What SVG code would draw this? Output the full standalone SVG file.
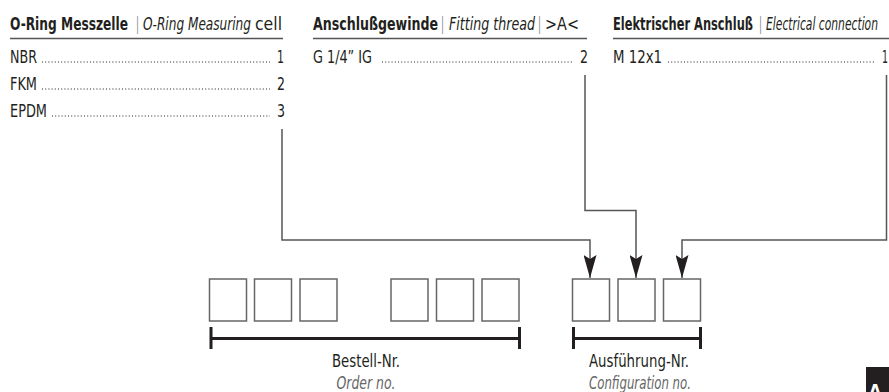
<svg xmlns="http://www.w3.org/2000/svg" width="889" height="392" viewBox="0 0 889 392">
<style>
text{font-family:"Liberation Sans Narrow","DejaVu Sans Condensed","Liberation Sans",sans-serif;font-size:17.5px;fill:#231f20}
.b{font-weight:bold}
.i{font-style:italic}
.sep{fill:#888;font-weight:normal}
.ul{stroke:#555;stroke-width:1.5;fill:none}
.dots{stroke:#231f20;stroke-width:1.2;stroke-dasharray:1 2.2;fill:none}
.box{fill:#fff;stroke:#666;stroke-width:1.5}
.br{stroke:#231f20;stroke-width:3;fill:none}
.con{stroke:#555;stroke-width:1.5;fill:none;marker-end:url(#ah)}
.c{text-anchor:middle}
</style>
<defs>
<marker id="ah" viewBox="0 0 23 13" refX="23" refY="6.5" markerWidth="23" markerHeight="13" markerUnits="userSpaceOnUse" orient="auto">
<path d="M0,0 L23,6.5 L0,13 L4,6.5 Z" fill="#231f20"/>
</marker>
</defs>
<g id="header-oring">
<text class="b" x="10" y="30" textLength="118" lengthAdjust="spacingAndGlyphs">O-Ring Messzelle</text>
<text class="sep" x="136" y="30" textLength="3" lengthAdjust="spacingAndGlyphs">|</text>
<text class="i" x="143" y="30" textLength="108" lengthAdjust="spacingAndGlyphs">O-Ring Measuring</text>
<text x="255" y="30" textLength="27" lengthAdjust="spacingAndGlyphs">cell</text>
<line class="ul" x1="10" y1="38.5" x2="283" y2="38.5"/>
</g>
<g id="opt-nbr">
<text x="10" y="63" textLength="27" lengthAdjust="spacingAndGlyphs">NBR</text>
<line class="dots" x1="42" y1="62" x2="270" y2="62"/>
<text x="277" y="63" textLength="7" lengthAdjust="spacingAndGlyphs">1</text>
</g>
<g id="opt-fkm">
<text x="10" y="90" textLength="27" lengthAdjust="spacingAndGlyphs">FKM</text>
<line class="dots" x1="42" y1="89" x2="270" y2="89"/>
<text x="277" y="90" textLength="8" lengthAdjust="spacingAndGlyphs">2</text>
</g>
<g id="opt-epdm">
<text x="10" y="117" textLength="37" lengthAdjust="spacingAndGlyphs">EPDM</text>
<line class="dots" x1="52" y1="116" x2="270" y2="116"/>
<text x="277" y="117" textLength="8" lengthAdjust="spacingAndGlyphs">3</text>
</g>
<g id="header-thread">
<text class="b" x="313" y="30" textLength="125" lengthAdjust="spacingAndGlyphs">Anschlußgewinde</text>
<text class="sep" x="441" y="30" textLength="3" lengthAdjust="spacingAndGlyphs">|</text>
<text class="i" x="449" y="30" textLength="86" lengthAdjust="spacingAndGlyphs">Fitting thread</text>
<text class="sep" x="538" y="30" textLength="3" lengthAdjust="spacingAndGlyphs">|</text>
<text x="545" y="30" textLength="34" lengthAdjust="spacingAndGlyphs">&gt;A&lt;</text>
<line class="ul" x1="313" y1="38.5" x2="587" y2="38.5"/>
</g>
<g id="opt-g14">
<text x="313" y="63" textLength="59" lengthAdjust="spacingAndGlyphs">G 1/4”  IG</text>
<line class="dots" x1="382" y1="62" x2="573" y2="62"/>
<text x="580" y="63" textLength="8" lengthAdjust="spacingAndGlyphs">2</text>
</g>
<g id="header-electrical">
<text class="b" x="613" y="30" textLength="140" lengthAdjust="spacingAndGlyphs">Elektrischer Anschluß</text>
<text class="sep" x="759" y="30" textLength="3" lengthAdjust="spacingAndGlyphs">|</text>
<text class="i" x="766" y="30" textLength="112" lengthAdjust="spacingAndGlyphs">Electrical connection</text>
<line class="ul" x1="613" y1="38.5" x2="889" y2="38.5"/>
</g>
<g id="opt-m12">
<text x="613" y="63" textLength="49" lengthAdjust="spacingAndGlyphs">M 12x1</text>
<line class="dots" x1="668" y1="62" x2="874" y2="62"/>
<text x="882" y="63" textLength="6" lengthAdjust="spacingAndGlyphs">1</text>
</g>
<g id="connectors">
<path class="con" d="M282,129 V240 H590 V278"/>
<path class="con" d="M585,75 V210.5 H636 V278"/>
<path class="con" d="M886.5,75 V240 H682 V278"/>
</g>
<g id="order-boxes">
<rect class="box" x="209.5" y="279" width="37" height="42"/>
<rect class="box" x="254.5" y="279" width="37" height="42"/>
<rect class="box" x="300" y="279" width="37" height="42"/>
<rect class="box" x="391" y="279" width="37" height="42"/>
<rect class="box" x="436.5" y="279" width="37" height="42"/>
<rect class="box" x="482" y="279" width="37" height="42"/>
</g>
<g id="order-bracket">
<path class="br" d="M211,327 V349 M519.5,327 V349 M211,338.5 H519.5"/>
<text class="c" x="366" y="367" textLength="68" lengthAdjust="spacingAndGlyphs">Bestell-Nr.</text>
<text class="c i" x="366" y="389" textLength="59" lengthAdjust="spacingAndGlyphs" style="fill:#666">Order no.</text>
</g>
<g id="config-boxes">
<rect class="box" x="572.5" y="279" width="37" height="42"/>
<rect class="box" x="618" y="279" width="37" height="42"/>
<rect class="box" x="663.5" y="279" width="37" height="42"/>
</g>
<g id="config-bracket">
<path class="br" d="M573.5,327 V349 M700.5,327 V349 M573.5,338.5 H700.5"/>
<text class="c" x="639" y="367" textLength="100" lengthAdjust="spacingAndGlyphs">Ausführung-Nr.</text>
<text class="c i" x="640" y="389" textLength="102" lengthAdjust="spacingAndGlyphs" style="fill:#666">Configuration no.</text>
</g>
<g id="tab">
<rect x="866" y="367" width="23" height="25" fill="#231f20"/>
<text class="b" x="869" y="397" style="fill:#fff">A</text>
</g>
</svg>
